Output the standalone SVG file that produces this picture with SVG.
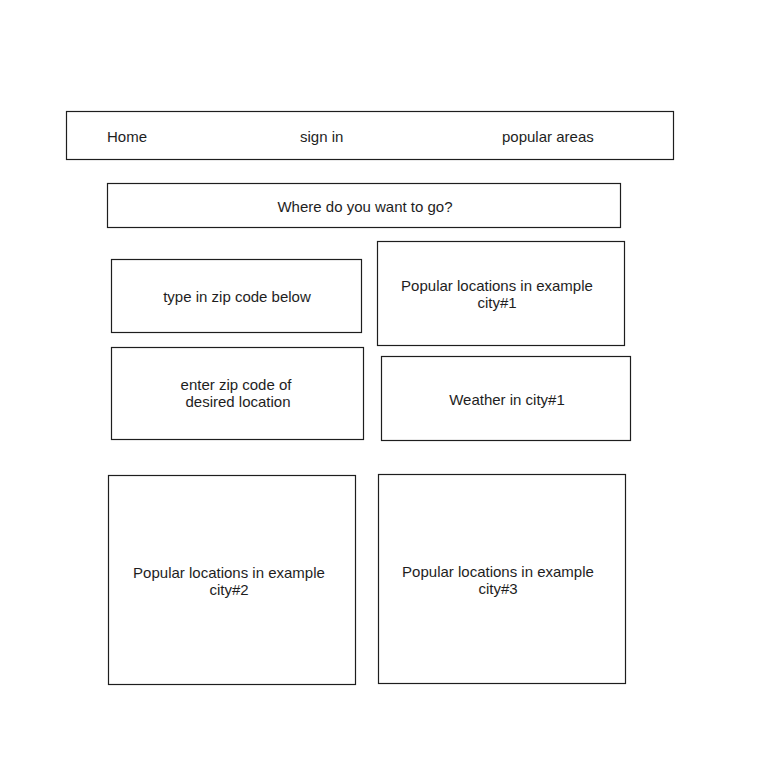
<svg xmlns="http://www.w3.org/2000/svg" width="784" height="782" viewBox="0 0 784 782">
<style>
.box{fill:#ffffff;stroke:#1e1e1e;stroke-width:1.2}
.t{font-family:"Liberation Sans",Arial,sans-serif;font-size:15px;fill:#1e1e1e;text-anchor:middle;dominant-baseline:central}
.l{text-anchor:start}
</style>
<rect width="784" height="782" fill="#ffffff"/>
<g id="navbar">
<rect class="box" x="66.5" y="111.5" width="607" height="48"/>
<text class="t l" x="107" y="136">Home</text>
<text class="t l" x="300" y="136">sign in</text>
<text class="t l" x="502" y="136">popular areas</text>
</g>
<g id="search">
<rect class="box" x="107.5" y="183.5" width="513" height="44"/>
<text class="t" x="365" y="206">Where do you want to go?</text>
</g>
<g id="type-zip">
<rect class="box" x="111.5" y="259.5" width="250" height="73"/>
<text class="t" x="237" y="296">type in zip code below</text>
</g>
<g id="popular-city1">
<rect class="box" x="377.5" y="241.5" width="247" height="104"/>
<text class="t" x="497" y="285">Popular locations in example</text>
<text class="t" x="497" y="302">city#1</text>
</g>
<g id="enter-zip">
<rect class="box" x="111.5" y="347.5" width="252" height="92"/>
<text class="t" x="236" y="384">enter zip code of</text>
<text class="t" x="238" y="401">desired location</text>
</g>
<g id="weather-city1">
<rect class="box" x="381.5" y="356.5" width="249" height="84"/>
<text class="t" x="507" y="399">Weather in city#1</text>
</g>
<g id="popular-city2">
<rect class="box" x="108.5" y="475.5" width="247" height="209"/>
<text class="t" x="229" y="572">Popular locations in example</text>
<text class="t" x="229" y="589">city#2</text>
</g>
<g id="popular-city3">
<rect class="box" x="378.5" y="474.5" width="247" height="209"/>
<text class="t" x="498" y="571">Popular locations in example</text>
<text class="t" x="498" y="588">city#3</text>
</g>
<g id="connectors"></g>
</svg>
